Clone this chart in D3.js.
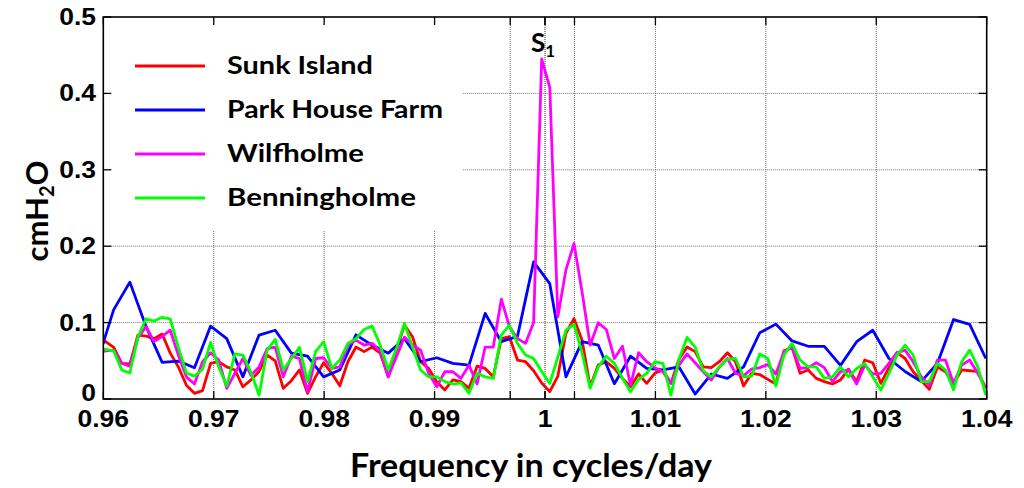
<!DOCTYPE html>
<html><head><meta charset="utf-8">
<script src="https://cdn.jsdelivr.net/npm/d3@7"></script>
<style>body{margin:0;background:#fff}svg{display:block}</style>
</head><body>
<svg id="c" width="1024" height="488"></svg>
<script>
// ---- data ----
const seriesNames = ["Sunk Island", "Park House Farm", "Wilfholme", "Benningholme"];
const seriesColors = ["#ff0000", "#0000ff", "#ff00ff", "#00ff00"];
// common frequency grid (cycles/day) for Sunk Island, Wilfholme, Benningholme
const gridStart = 0.95948, gridStep = 0.0007313;
// Park House Farm has a coarser grid (every other point)
const blueStart = 0.95948, blueStep = 0.0014626;
const sunkIsland = [0.072,0.075,0.0675,0.0466,0.0458,0.0837,0.0824,0.079,0.085,0.060,0.042,0.018,0.0074,0.011,0.0466,0.0488,0.042,0.038,0.016,0.025,
0.036,0.0575,0.050,0.014,0.024,0.038,0.0074,0.029,0.0475,0.0336,0.0174,0.0488,0.068,0.062,0.068,0.060,0.029,0.064,0.0967,0.0815,
0.0488,0.040,0.0227,0.0118,0.025,0.0227,0.014,0.043,0.040,0.029,0.079,0.0815,0.051,0.0488,0.037,0.021,0.0096,0.030,0.086,0.105,
0.077,0.016,0.0444,0.0488,0.040,0.027,0.016,0.0327,0.0205,0.0336,0.038,0.0205,0.052,0.068,0.062,0.042,0.041,0.0488,0.0606,0.0488,
0.017,0.0336,0.032,0.0257,0.0196,0.063,0.0675,0.0336,0.038,0.027,0.0227,0.0196,0.025,0.039,0.0227,0.051,0.0475,0.0205,0.041,0.0606,
0.053,0.0357,0.024,0.0126,0.042,0.0357,0.0196,0.038,0.037,0.0357,0.014];
const parkHouseFarm = [0.05,0.117,0.153,0.095,0.048,0.0497,0.041,0.0954,0.079,0.029,0.0837,0.090,0.060,0.056,0.029,0.038,0.084,0.0706,0.060,0.079,
0.049,0.054,0.0466,0.0444,0.112,0.075,0.082,0.1795,0.151,0.029,0.075,0.0706,0.020,0.056,0.040,0.038,0.042,0.0065,0.0327,0.027,
0.042,0.0867,0.098,0.076,0.069,0.069,0.044,0.075,0.090,0.053,0.036,0.0227,0.0466,0.104,0.0976,0.053];
const wilfholme = [0.06,0.063,0.064,0.0466,0.043,0.08,0.0946,0.075,0.082,0.090,0.0575,0.029,0.0196,0.0488,0.0606,0.051,0.014,0.0336,0.053,0.031,
0.042,0.066,0.068,0.029,0.056,0.053,0.0096,0.053,0.054,0.040,0.042,0.0706,0.077,0.0706,0.0728,0.063,0.029,0.055,0.081,0.0706,
0.064,0.0336,0.016,0.0357,0.0357,0.027,0.0444,0.0196,0.068,0.068,0.1307,0.0946,0.079,0.0728,0.10,0.445,0.408,0.1076,0.169,0.2035,
0.14,0.0706,0.0998,0.091,0.053,0.069,0.018,0.0606,0.0488,0.041,0.0357,0.0205,0.0444,0.059,0.0475,0.0357,0.025,0.042,0.053,0.0336,
0.0305,0.039,0.041,0.045,0.0327,0.062,0.0675,0.040,0.041,0.0475,0.041,0.0227,0.0357,0.038,0.0196,0.0444,0.0327,0.0336,0.0466,0.0606,
0.064,0.0488,0.029,0.018,0.051,0.051,0.0205,0.0444,0.051,0.0336,0.014];
const benningholme = [0.065,0.065,0.063,0.038,0.034,0.081,0.105,0.102,0.107,0.105,0.068,0.034,0.030,0.039,0.074,0.042,0.017,0.059,0.0575,0.035,
0.005,0.064,0.078,0.038,0.053,0.0675,0.0227,0.062,0.075,0.040,0.051,0.0728,0.079,0.091,0.0954,0.0706,0.038,0.066,0.099,0.068,
0.038,0.029,0.029,0.0227,0.0196,0.021,0.0074,0.0336,0.029,0.027,0.0837,0.0967,0.0728,0.0575,0.053,0.036,0.0205,0.055,0.090,0.098,
0.060,0.014,0.042,0.056,0.0466,0.027,0.0096,0.0257,0.0336,0.0488,0.0466,0.005,0.052,0.0806,0.068,0.037,0.029,0.042,0.052,0.053,
0.029,0.030,0.059,0.053,0.017,0.0575,0.0728,0.051,0.042,0.042,0.027,0.029,0.042,0.029,0.040,0.0466,0.029,0.0118,0.0336,0.0575,
0.0706,0.0575,0.0227,0.0227,0.0466,0.038,0.0118,0.0488,0.064,0.042,0.005];
const xTicks = [0.96,0.97,0.98,0.99,1.00,1.01,1.02,1.03,1.04];
const xTickLabels = ["0.96","0.97","0.98","0.99","1","1.01","1.02","1.03","1.04"];
const extraXTicks = [0.99685, 1.0, 1.00267];   // tidal lines near S1
const yTicks = [0,0.1,0.2,0.3,0.4,0.5];
const yTickLabels = ["0","0.1","0.2","0.3","0.4","0.5"];

// ---- drawing ----
const svg = d3.select("#c");
const L = 103.3, R = 986.7, T = 17, B = 399;
const x = d3.scaleLinear().domain([0.96,1.04]).range([L,R]);
const y = d3.scaleLinear().domain([0,0.5]).range([B,T]);

svg.append("defs").append("clipPath").attr("id","clip")
  .append("rect").attr("x",L).attr("y",T).attr("width",R-L).attr("height",B-T);

const gridCol = "#6e6e6e";
const g = svg.append("g");
g.selectAll(".vg").data(xTicks.slice(1,-1).concat(extraXTicks)).join("line")
  .attr("x1",d=>x(d)).attr("x2",d=>x(d)).attr("y1",T).attr("y2",B)
  .attr("stroke",gridCol).attr("stroke-width",1).attr("stroke-dasharray","1,1");
g.selectAll(".hg").data(yTicks.slice(1,-1)).join("line")
  .attr("y1",d=>y(d)).attr("y2",d=>y(d)).attr("x1",L).attr("x2",R)
  .attr("stroke",gridCol).attr("stroke-width",1).attr("stroke-dasharray","1,1");

const mk = (vals, start, step) => vals.map((v,i)=>({f:start+i*step, v}));
const data = [
  mk(sunkIsland, gridStart, gridStep),
  mk(parkHouseFarm, blueStart, blueStep),
  mk(wilfholme, gridStart, gridStep),
  mk(benningholme, gridStart, gridStep)
];
const line = d3.line().x(d=>x(d.f)).y(d=>y(d.v));

const lines = svg.append("g").attr("clip-path","url(#clip)");
data.forEach((d,i)=>{
  lines.append("path").datum(d).attr("d",line).attr("fill","none")
    .attr("stroke",seriesColors[i]).attr("stroke-width",2.8).attr("stroke-linejoin","round");
});

// legend (white background hides grid)
const legendW = 358, legendH = 212;
const lg = svg.append("g");
lg.append("rect").attr("x",L+1).attr("y",T+1).attr("width",legendW).attr("height",legendH).attr("fill","#fff");
const legY = [66,110,154,198];
const legW = [146,216,137,189];
const legFont = "Lato, 'Open Sans', sans-serif";
seriesNames.forEach((n,i)=>{
  lg.append("line").attr("x1",135).attr("x2",205).attr("y1",legY[i]).attr("y2",legY[i])
    .attr("stroke",seriesColors[i]).attr("stroke-width",2.8);
  lg.append("text").attr("x",227).attr("y",legY[i]+8).text(n)
    .attr("font-family",legFont).attr("font-weight","bold").attr("font-size",24).attr("fill","#000")
    .attr("textLength",legW[i]).attr("lengthAdjust","spacingAndGlyphs");
});

// axes box & ticks
const ax = svg.append("g");
ax.append("rect").attr("x",L).attr("y",T).attr("width",R-L).attr("height",B-T)
  .attr("fill","none").attr("stroke","#000").attr("stroke-width",1.6);
const tl = 8;
const allX = xTicks.concat(extraXTicks);
ax.selectAll(".xtb").data(allX).join("line")
  .attr("x1",d=>x(d)).attr("x2",d=>x(d)).attr("y1",B).attr("y2",B-tl).attr("stroke","#000").attr("stroke-width",1.3);
ax.selectAll(".xtt").data(allX).join("line")
  .attr("x1",d=>x(d)).attr("x2",d=>x(d)).attr("y1",T).attr("y2",T+tl).attr("stroke","#000").attr("stroke-width",1.3);
ax.selectAll(".ytl").data(yTicks).join("line")
  .attr("y1",d=>y(d)).attr("y2",d=>y(d)).attr("x1",L).attr("x2",L+tl).attr("stroke","#000").attr("stroke-width",1.3);
ax.selectAll(".ytr").data(yTicks).join("line")
  .attr("y1",d=>y(d)).attr("y2",d=>y(d)).attr("x1",R).attr("x2",R-tl).attr("stroke","#000").attr("stroke-width",1.3);

const tickFont = "'Liberation Sans', Arial, sans-serif";
const stretch = function(){ const w = this.getComputedTextLength(); d3.select(this).attr("textLength", w*1.15).attr("lengthAdjust","spacingAndGlyphs"); };
ax.selectAll(".xl").data(xTicks).join("text")
  .attr("x",d=>x(d)).attr("y",427).attr("text-anchor","middle")
  .attr("font-family",tickFont).attr("font-weight","bold").attr("font-size",23)
  .text((d,i)=>xTickLabels[i]).each(stretch);
ax.selectAll(".yl").data(yTicks).join("text")
  .attr("x",96).attr("y",d=>y(d)+(d===0?2:8)).attr("text-anchor","end")
  .attr("font-family",tickFont).attr("font-weight","bold").attr("font-size",23)
  .text((d,i)=>yTickLabels[i]).each(stretch);

// axis titles
svg.append("text").attr("x",531).attr("y",477).attr("text-anchor","middle")
  .attr("font-family",legFont).attr("font-weight","bold").attr("font-size",32)
  .attr("textLength",362).attr("lengthAdjust","spacingAndGlyphs")
  .text("Frequency in cycles/day");
const yt = svg.append("text").attr("transform","translate(48,211) rotate(-90)").attr("text-anchor","middle")
  .attr("font-family",legFont).attr("font-weight","bold").attr("font-size",31);
yt.append("tspan").text("cmH");
yt.append("tspan").attr("font-size",20).attr("dy",6).text("2");
yt.append("tspan").attr("dy",-6).text("O");

// S1 annotation
const s1 = svg.append("text").attr("x",531).attr("y",52)
  .attr("font-family",legFont).attr("font-weight","bold").attr("font-size",26);
s1.append("tspan").text("S");
s1.append("tspan").attr("font-size",17).attr("dy",5).text("1");
</script>
</body></html>
